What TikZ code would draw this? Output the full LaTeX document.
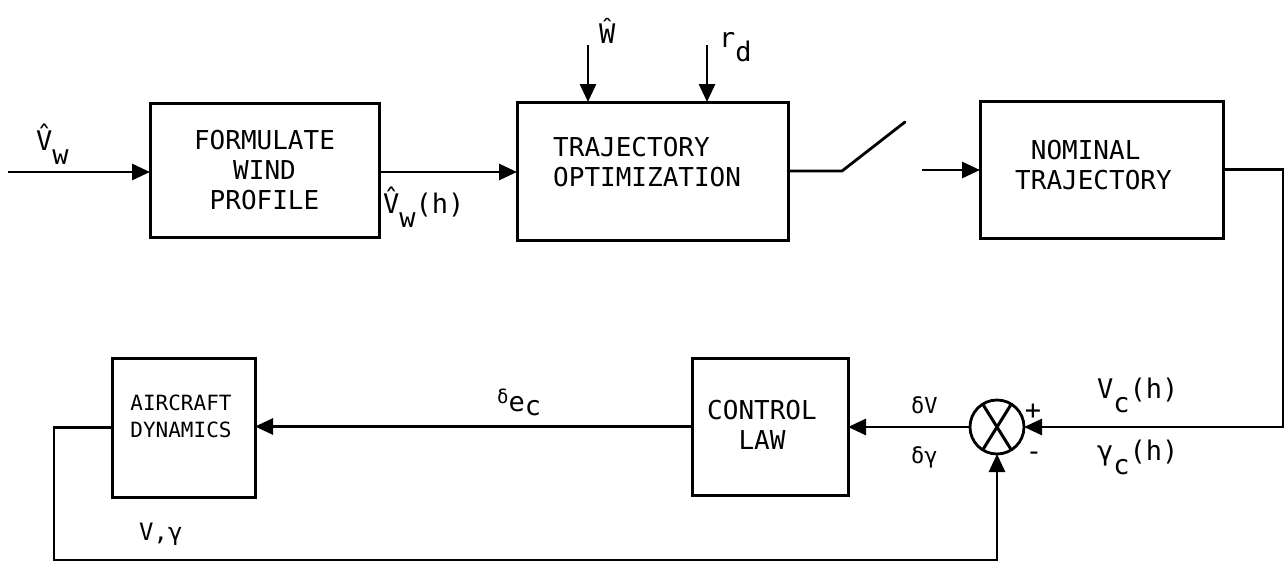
\documentclass[tikz,border=0pt]{standalone}
\usepackage{fontspec}
\setmainfont{DejaVu Sans Mono}
\usetikzlibrary{arrows.meta}
\newcommand{\sbs}[1]{\raisebox{-0.55em}{#1}}
\tikzset{
  blk/.style={draw, line width=3pt, outer sep=0pt, inner sep=0pt, align=center,
    font=\fontsize{26}{30}\selectfont},
  txt/.style={inner sep=0pt, font=\fontsize{26}{30}\selectfont},
  lbl/.style={inner sep=0pt, font=\fontsize{27}{30}\selectfont},
  slbl/.style={inner sep=0pt, font=\fontsize{22}{26}\selectfont},
  wire/.style={line width=2.8pt},
  arr/.style={wire, -{Triangle[length=18pt,width=16pt]}},
}
\begin{document}
\begin{tikzpicture}[x=1pt,y=-1pt]
\useasboundingbox (0,0) rectangle (1285,562);

% blocks
\node[blk, minimum width=229pt, minimum height=134pt] (form) at (264.5,170) {FORMULATE\\WIND\\PROFILE};
\node[blk, minimum width=271pt, minimum height=138pt] (opt) at (652.5,171) {};
\node[txt, align=left, anchor=north west] (optt) at (553,137) {TRAJECTORY\\OPTIMIZATION};
\node[blk, minimum width=243pt, minimum height=137pt] (nom) at (1101.5,169.5) {};
\node[txt, align=left, anchor=north west] (nomt) at (1015,140) {\ NOMINAL\\TRAJECTORY};
\node[blk, minimum width=156pt, minimum height=137pt] (law) at (770,426.5) {};
\node[txt, align=center] (lawt) at (762,425) {CONTROL\\LAW};
\node[blk, minimum width=143pt, minimum height=139pt] (air) at (183.5,427.5) {};
\node[txt, align=center, font=\fontsize{21}{27}\selectfont] (airt) at (181,416) {AIRCRAFT\\DYNAMICS};
\node[draw, circle, line width=2.8pt, minimum size=54pt, inner sep=0pt, outer sep=0pt] (sum) at (997,427) {};
\draw[line width=3pt] (sum.122) -- (sum.302) (sum.58) -- (sum.238);

% coordinates
\coordinate (vin) at (8,172);
\coordinate (win) at (588,45);
\coordinate (rin) at (707,45);
\coordinate (sw1) at (842,171);
\coordinate (sw2) at (905,122);
\coordinate (nin) at (922,170);
\coordinate (c1) at (1283,169.5);
\coordinate (c2) at (1283,427);
\coordinate (f1) at (54,427.5);
\coordinate (f2) at (54,560);
\coordinate (f3) at (997,560);

% connectors
\draw[arr] (vin) -- (vin -| form.west);
\draw[arr] (form.east |- 0,172) -- (opt.west |- 0,172);
\draw[arr] (win) -- (win |- opt.north);
\draw[arr] (rin) -- (rin |- opt.north);
\draw[wire, line cap=round] (opt.east |- sw1) -- (sw1) -- (sw2);
\draw[arr] (nin) -- (nin -| nom.west);
\draw[arr] (nom.east) -- (c1) -- (c2) -- (sum.east);
\draw[arr] (sum.west) -- (sum.west -| law.east);
\draw[arr] (law.west) -- (law.west -| air.east);
\draw[arr] (air.west) -- (f1) -- (f2) -- (f3) -- (sum.south);

% labels
\node[lbl, anchor=base west] (l1) at (36,150) {V̂\sbs{w}};
\node[lbl, anchor=base west] (l2) at (383,213) {V̂\sbs{w}(h)};
\node[lbl, anchor=base west] (l3) at (599,43) {Ŵ};
\node[lbl, anchor=base west] (l4) at (719,47) {r\sbs{d}};
\node[lbl, anchor=base west] (l5) at (1097,398) {V\sbs{c}(h)};
\node[lbl, anchor=base west] (l6) at (1097,460) {γ\sbs{c}(h)};
\node[slbl, anchor=base west] (l7) at (911,413) {δV};
\node[slbl, anchor=base west] (l8) at (911,463) {δγ};
\node[lbl] (l9) at (1033,412) {+};
\node[lbl] (l10) at (1034,456) {-};
\node[lbl, anchor=base west] (l11) at (497,411) {\raisebox{8pt}{\fontsize{19}{22}\selectfont δ}e\raisebox{-4pt}{c}};
\node[slbl, font=\fontsize{24}{28}\selectfont, anchor=base west] (l12) at (139,540) {V,γ};
\end{tikzpicture}
\end{document}
